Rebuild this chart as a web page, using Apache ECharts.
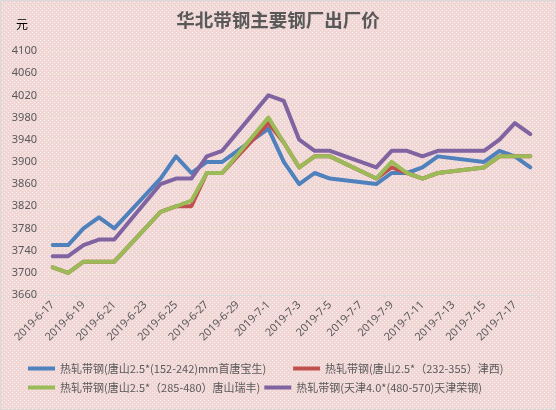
<!DOCTYPE html>
<html>
<head>
<meta charset="utf-8">
<script src="https://cdn.jsdelivr.net/npm/echarts/dist/echarts.min.js"></script>
<style>
  html, body { margin: 0; padding: 0; }
  #chart { width: 556px; height: 410px; }
</style>
</head>
<body>
<div id="chart"></div>
<script>
// categories: every calendar day, weekends have no quote (null)
var dates = [
    '2019-6-17', '2019-6-18', '2019-6-19', '2019-6-20', '2019-6-21', '2019-6-22', '2019-6-23',
    '2019-6-24', '2019-6-25', '2019-6-26', '2019-6-27', '2019-6-28', '2019-6-29', '2019-6-30',
    '2019-7-1', '2019-7-2', '2019-7-3', '2019-7-4', '2019-7-5', '2019-7-6', '2019-7-7',
    '2019-7-8', '2019-7-9', '2019-7-10', '2019-7-11', '2019-7-12', '2019-7-13', '2019-7-14',
    '2019-7-15', '2019-7-16', '2019-7-17', '2019-7-18'
];

var names = [
    '热轧带钢(唐山2.5*(152-242)mm首唐宝生)',
    '热轧带钢(唐山2.5*（232-355）津西)',
    '热轧带钢(唐山2.5*（285-480）唐山瑞丰)',
    '热轧带钢(天津4.0*(480-570)天津荣钢)'
];

var baosheng = [3750, 3750, 3780, 3800, 3780, null, null,
    3870, 3910, 3880, 3900, 3900, null, null,
    3960, 3900, 3860, 3880, 3870, null, null,
    3860, 3880, 3880, 3890, 3910, null, null,
    3900, 3920, 3910, 3890];

var jinxi = [3710, 3700, 3720, 3720, 3720, null, null,
    3810, 3820, 3820, 3880, 3880, null, null,
    3970, 3935, 3890, 3910, 3910, null, null,
    3870, 3890, 3880, 3870, 3880, null, null,
    3890, 3910, 3910, 3910];

var ruifeng = [3710, 3700, 3720, 3720, 3720, null, null,
    3810, 3820, 3830, 3880, 3880, null, null,
    3980, 3935, 3890, 3910, 3910, null, null,
    3870, 3900, 3880, 3870, 3880, null, null,
    3890, 3910, 3910, 3910];

var ronggang = [3730, 3730, 3750, 3760, 3760, null, null,
    3860, 3870, 3870, 3910, 3920, null, null,
    4020, 4010, 3940, 3920, 3920, null, null,
    3890, 3920, 3920, 3910, 3920, null, null,
    3920, 3940, 3970, 3950];

var colors = ['#4f81bd', '#c0504d', '#9bbb59', '#8064a2'];
var values = [baosheng, jinxi, ruifeng, ronggang];

// dotted pink background tile
var tile = document.createElement('canvas');
tile.width = 4;
tile.height = 4;
var tc = tile.getContext('2d');
tc.fillStyle = '#f1d6d6';
tc.fillRect(0, 0, 4, 4);
tc.fillStyle = '#fbf1f1';
tc.fillRect(0, 0, 1, 1);
tc.fillRect(2, 2, 1, 1);

var chart = echarts.init(document.getElementById('chart'));

var series = values.map(function (v, i) {
    return {
        name: names[i],
        type: 'line',
        data: v,
        connectNulls: true,
        symbol: 'none',
        lineStyle: { width: 4, color: colors[i], join: 'round', cap: 'round' },
        itemStyle: { color: colors[i] }
    };
});

var legendText = { color: '#595959', fontSize: 11, fontFamily: 'Noto Sans CJK SC' };

var option = {
    animation: false,
    color: colors,
    graphic: [{
        type: 'rect',
        z: -10,
        silent: true,
        shape: { x: 0, y: 0, width: 556, height: 410 },
        style: { fill: { image: tile, repeat: 'repeat' } }
    }, {
        type: 'rect',
        z: 100,
        silent: true,
        shape: { x: 0.5, y: 0.5, width: 555, height: 409 },
        style: { fill: 'none', stroke: '#d9d9d9', lineWidth: 1 }
    }],
    title: [{
        text: '华北带钢主要钢厂出厂价',
        left: 'center',
        top: 11,
        padding: 0,
        textStyle: { color: '#595959', fontSize: 18.5, fontWeight: 'bold', fontFamily: 'Noto Sans CJK SC' }
    }, {
        text: '元',
        left: 16,
        top: 18,
        padding: 0,
        textStyle: { color: '#000', fontSize: 12, fontWeight: 'normal', fontFamily: 'Noto Sans CJK SC' }
    }],
    legend: [{
        data: [names[0], names[1]],
        left: 28,
        top: 363,
        itemWidth: 27,
        itemHeight: 4,
        itemGap: 27,
        icon: 'rect',
        padding: 0,
        textStyle: legendText
    }, {
        data: [names[2], names[3]],
        left: 28,
        top: 382,
        itemWidth: 27,
        itemHeight: 4,
        itemGap: 4,
        icon: 'rect',
        padding: 0,
        textStyle: legendText
    }],
    grid: { left: 45, right: 18, top: 51, bottom: 115, containLabel: false },
    xAxis: {
        type: 'category',
        data: dates,
        boundaryGap: true,
        axisLine: { lineStyle: { color: '#d9d9d9' } },
        axisTick: { show: true, interval: 1, length: 4, lineStyle: { color: '#d9d9d9' } },
        axisLabel: {
            interval: 1,
            rotate: 45,
            margin: 8,
            color: '#595959',
            fontSize: 11,
            fontFamily: 'Noto Sans'
        }
    },
    yAxis: {
        type: 'value',
        min: 3660,
        max: 4100,
        interval: 40,
        axisLine: { show: false },
        axisTick: { show: false },
        axisLabel: {
            color: '#595959',
            fontSize: 11,
            margin: 8,
            fontFamily: 'Noto Sans',
            formatter: function (v) { return String(v); }
        },
        splitLine: { lineStyle: { color: '#efdfd2', width: 1 } }
    },
    series: series
};

chart.setOption(option);
</script>
</body>
</html>
